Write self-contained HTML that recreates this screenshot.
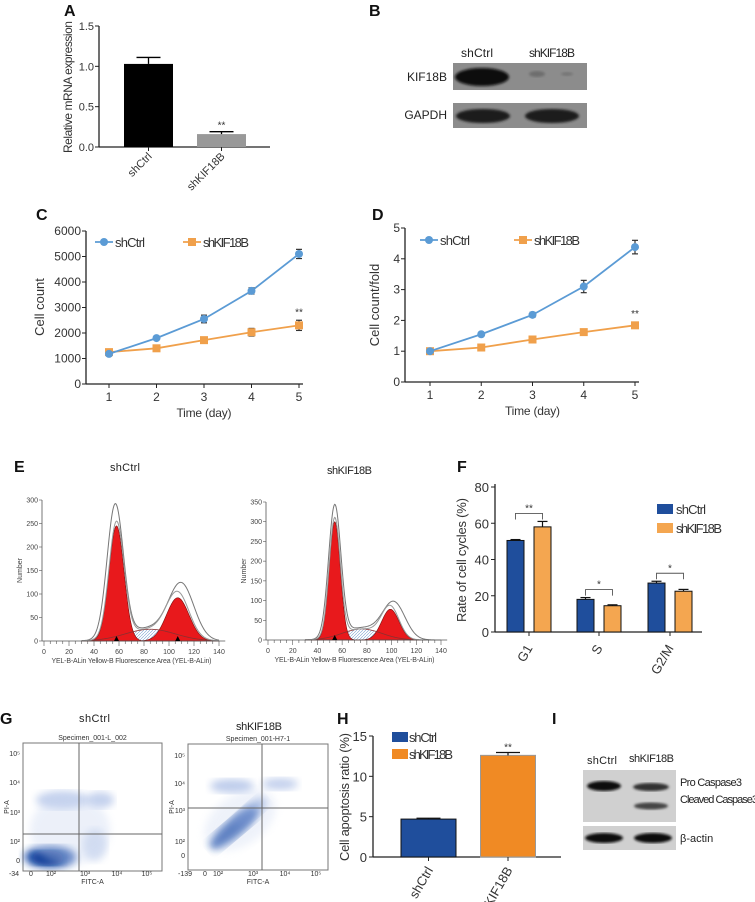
<!DOCTYPE html>
<html><head><meta charset="utf-8">
<style>
html,body{margin:0;padding:0;background:#fff;}
svg{display:block;font-family:"Liberation Sans",sans-serif;}
</style></head>
<body>
<svg id="fig" width="755" height="902" viewBox="0 0 755 902" xmlns="http://www.w3.org/2000/svg">
<defs>
<filter id="blur2"><feGaussianBlur stdDeviation="2"/></filter>
<filter id="blur3"><feGaussianBlur stdDeviation="4"/></filter>
<filter id="blur1"><feGaussianBlur stdDeviation="1.2"/></filter>
<pattern id="hatch" width="3" height="3" patternUnits="userSpaceOnUse"><path d="M0,3 L3,0" stroke="#7aa0d0" stroke-width="0.6"/></pattern>
</defs>

<g font-weight="bold" font-size="16" fill="#111">
<text x="64" y="16">A</text>
<text x="369" y="16">B</text>
<text x="36" y="220">C</text>
<text x="372" y="220">D</text>
<text x="14" y="472">E</text>
<text x="457" y="472">F</text>
<text x="0" y="724">G</text>
<text x="337" y="724">H</text>
<text x="552" y="724">I</text>
</g>

<g font-size="12" fill="#222">
<text x="461" y="57" textLength="32">shCtrl</text>
<text x="529" y="57" textLength="46">shKIF18B</text>
<text x="447" y="81" text-anchor="end">KIF18B</text>
<text x="447" y="119" text-anchor="end">GAPDH</text>
<rect x="453" y="63" width="134" height="27" fill="#8c8c8c"/>
<ellipse cx="482" cy="77" rx="27" ry="9" fill="#0a0a0a" filter="url(#blur1)"/>
<ellipse cx="537" cy="74" rx="8" ry="3" fill="#6d6d6d" filter="url(#blur1)"/>
<ellipse cx="567" cy="74" rx="6" ry="2" fill="#767676" filter="url(#blur1)"/>
<rect x="453" y="103" width="134" height="25" fill="#8c8c8c"/>
<ellipse cx="483" cy="116" rx="27" ry="7" fill="#1a1a1a" filter="url(#blur1)"/>
<ellipse cx="552" cy="116" rx="27" ry="7" fill="#1a1a1a" filter="url(#blur1)"/>
</g>

<g font-size="11" fill="#222">
<text x="587" y="764" textLength="30">shCtrl</text>
<text x="629" y="762" textLength="45">shKIF18B</text>
<rect x="583" y="770" width="93" height="52" fill="#d0d0d0"/>
<ellipse cx="604" cy="786" rx="17" ry="5" fill="#111" filter="url(#blur1)"/>
<ellipse cx="651" cy="787" rx="18" ry="4" fill="#333" filter="url(#blur1)"/>
<ellipse cx="651" cy="806" rx="17" ry="3.5" fill="#444" filter="url(#blur1)"/>
<rect x="583" y="826" width="93" height="24" fill="#d0d0d0"/>
<ellipse cx="604" cy="838" rx="19" ry="5" fill="#111" filter="url(#blur1)"/>
<ellipse cx="653" cy="838" rx="19" ry="5" fill="#111" filter="url(#blur1)"/>
<text x="680" y="786" textLength="62">Pro Caspase3</text>
<text x="680" y="803" textLength="78">Cleaved Caspase3</text>
<text x="680" y="842">β-actin</text>
</g>

<text x="110" y="471" font-size="11" fill="#222" textLength="30">shCtrl</text>
<text x="327" y="474" font-size="11" fill="#222" textLength="45">shKIF18B</text>
<text x="79" y="722" font-size="11" fill="#222" textLength="31">shCtrl</text>
<text x="236" y="730" font-size="11" fill="#222" textLength="46">shKIF18B</text>

<g id="charts"></g>
</svg>

<script>
// ===== Panel A data =====
const aCats = ["shCtrl","shKIF18B"];
const aVals = [1.03, 0.16];
const aErrs = [0.08, 0.03];
const aTicks = [0.0, 0.5, 1.0, 1.5];
// ===== Panel C data =====
const cDays = [1,2,3,4,5];
const cCtrl = [1180,1800,2550,3650,5100];
const cCtrlErr = [80,50,150,120,180];
const cKif = [1250,1400,1720,2030,2300];
const cKifErr = [60,60,80,150,200];
const cTicks = [0,1000,2000,3000,4000,5000,6000];
// ===== Panel D data =====
const dCtrl = [1.0,1.55,2.18,3.1,4.38];
const dCtrlErr = [0.05,0.04,0.08,0.2,0.22];
const dKif = [1.0,1.12,1.38,1.62,1.84];
const dKifErr = [0.04,0.05,0.05,0.06,0.1];
const dTicks = [0,1,2,3,4,5];
// ===== Panel F data =====
const fCats = ["G1","S","G2/M"];
const fCtrl = [50.5,18,27];
const fCtrlErr = [0.5,1,1];
const fKif = [58,14.5,22.5];
const fKifErr = [3,0.5,1];
const fSig = ["**","*","*"];
const fTicks = [0,20,40,60,80];
// ===== Panel H data =====
const hCats = ["shCtrl","shKIF18B"];
const hVals = [4.7,12.6];
const hErrs = [0.1,0.35];
const hTicks = [0,5,10,15];
// ===== Panel E histogram fits (mu, height, sigma) =====
const e1G1 = [58,245,6]; const e1G2 = [107,92,9]; const e1S = [85,25,20];
const e1Out1 = [57,282,6.5]; const e1Out2 = [110,112,10];
const e2G1 = [54,300,4.5]; const e2G2 = [99,78,7]; const e2S = [76,28,16];
const e2Out1 = [54,332,5]; const e2Out2 = [102,90,9];

const NS="http://www.w3.org/2000/svg";
const root=document.getElementById('charts');
function mk(tag,attrs,parent){const e=document.createElementNS(NS,tag);for(const k in attrs)e.setAttribute(k,attrs[k]);(parent||root).appendChild(e);return e;}
function txt(s,attrs,parent){const e=mk('text',attrs,parent);e.textContent=s;return e;}
function lin(d0,d1,r0,r1){return v=>r0+(v-d0)/(d1-d0)*(r1-r0);}

// ---------- Panel A ----------
(function(){
 const g=mk('g',{});
 const y=lin(0,1.5,147,26);
 mk('line',{x1:99,y1:26,x2:99,y2:147,stroke:'#222','stroke-width':1.3},g);
 mk('line',{x1:99,y1:147,x2:270,y2:147,stroke:'#222','stroke-width':1.3},g);
 aTicks.forEach(t=>{mk('line',{x1:95,y1:y(t),x2:99,y2:y(t),stroke:'#222'},g);
  const l=txt(t.toFixed(1),{x:94,y:y(t)+4,'font-size':11,'text-anchor':'end',fill:'#333'},g);
  
  });
 const xs=[148.5,221.5], fills=['#000','#999'];
 aCats.forEach((c,i)=>{
  const b=mk('rect',{x:xs[i]-24.5,y:y(aVals[i]),width:49,height:147-y(aVals[i]),fill:fills[i]},g);
  
  
  mk('line',{x1:xs[i],y1:y(aVals[i]),x2:xs[i],y2:y(aVals[i]+aErrs[i]),stroke:'#000','stroke-width':1.3},g);
  mk('line',{x1:xs[i]-12,y1:y(aVals[i]+aErrs[i]),x2:xs[i]+12,y2:y(aVals[i]+aErrs[i]),stroke:'#000','stroke-width':1.3},g);
  mk('line',{x1:xs[i],y1:147,x2:xs[i],y2:151,stroke:'#222'},g);
  const l=txt(c,{x:xs[i]+4,y:157,'font-size':11,'text-anchor':'end',fill:'#333',transform:`rotate(-45 ${xs[i]+4} 157)`},g);
  
  
 });
 txt('**',{x:221.5,y:y(aVals[1]+aErrs[1])-3,'font-size':10,'text-anchor':'middle',fill:'#333'},g);
 const t=txt('Relative mRNA expression',{x:72,y:87,'font-size':12,'text-anchor':'middle',fill:'#333',textLength:132,transform:'rotate(-90 72 87)'},g);
 
 
})();

// ---------- line charts C / D ----------
function lineChart(o){
 const g=mk('g',{});
 const x=lin(1,5,o.x1,o.x5), y=lin(0,o.max,o.y0,o.yTop);
 mk('line',{x1:o.ax,y1:o.yTop,x2:o.ax,y2:o.y0,stroke:'#222','stroke-width':1.3},g);
 mk('line',{x1:o.ax,y1:o.y0,x2:o.x5+4,y2:o.y0,stroke:'#222','stroke-width':1.3},g);
 o.ticks.forEach(t=>{mk('line',{x1:o.ax-4,y1:y(t),x2:o.ax,y2:y(t),stroke:'#222'},g);
  const l=txt(String(t),{x:o.ax-5,y:y(t)+4,'font-size':12,'text-anchor':'end',fill:'#333'},g);
  
  });
 cDays.forEach(d=>{mk('line',{x1:x(d),y1:o.y0,x2:x(d),y2:o.y0+4,stroke:'#222'},g);
  const l=txt(String(d),{x:x(d),y:o.y0+17,'font-size':12,'text-anchor':'middle',fill:'#333'},g);
  
  });
 const xt=txt('Time (day)',{x:(o.x1+o.x5)/2,y:o.y0+33,'font-size':12,'text-anchor':'middle',fill:'#333',textLength:55},g);
 
 
 const yt=txt(o.ytitle,{x:o.tx,y:o.ty,'font-size':13,'text-anchor':'middle',fill:'#333',transform:`rotate(-90 ${o.tx} ${o.ty})`},g);
 
 
 const series=[{v:o.kif,e:o.kifE,c:'#f0a04b',sq:true,n:'shkif18b'},{v:o.ctrl,e:o.ctrlE,c:'#5b9bd5',sq:false,n:'shctrl'}];
 series.forEach(s=>{
  const p=mk('polyline',{points:cDays.map((d,i)=>x(d)+','+y(s.v[i])).join(' '),fill:'none',stroke:s.c,'stroke-width':1.8},g);
  
  
  cDays.forEach((d,i)=>{
   const cx=x(d),cy=y(s.v[i]),t=y(s.v[i]+s.e[i]),b=y(s.v[i]-s.e[i]);
   mk('line',{x1:cx,y1:t,x2:cx,y2:b,stroke:'#333','stroke-width':1.2},g);
   mk('line',{x1:cx-3,y1:t,x2:cx+3,y2:t,stroke:'#333','stroke-width':1.2},g);
   mk('line',{x1:cx-3,y1:b,x2:cx+3,y2:b,stroke:'#333','stroke-width':1.2},g);
   const m=s.sq?mk('rect',{x:cx-4,y:cy-4,width:8,height:8,fill:s.c},g):mk('circle',{cx:cx,cy:cy,r:4,fill:s.c},g);
   
   
  });
 });
 txt('**',{x:x(5),y:y(o.kif[4]+o.kifE[4])-5,'font-size':10,'text-anchor':'middle',fill:'#333'},g);
 [[o.lg1,'#5b9bd5',false,'shCtrl',30],[o.lg2,'#f0a04b',true,'shKIF18B',46]].forEach(L=>{
  const lx=L[0];
  mk('line',{x1:lx-9,y1:o.ly,x2:lx+9,y2:o.ly,stroke:L[1],'stroke-width':1.8},g);
  if(L[2])mk('rect',{x:lx-4,y:o.ly-4,width:8,height:8,fill:L[1]},g);else mk('circle',{cx:lx,cy:o.ly,r:4,fill:L[1]},g);
  const l=txt(L[3],{x:lx+11,y:o.ly+5,'font-size':13,fill:'#333',textLength:L[4]},g);
  
  
 });
}
lineChart({id:'c',ax:86,y0:384,yTop:231,max:6000,x1:109,x5:299,ticks:cTicks,ctrl:cCtrl,ctrlE:cCtrlErr,kif:cKif,kifE:cKifErr,ytitle:'Cell count',tx:44,ty:307,lg1:104,lg2:192,ly:242});
lineChart({id:'d',ax:405,y0:382,yTop:228,max:5,x1:430,x5:635,ticks:dTicks,ctrl:dCtrl,ctrlE:dCtrlErr,kif:dKif,kifE:dKifErr,ytitle:'Cell count/fold',tx:379,ty:305,lg1:429,lg2:523,ly:240});

// ---------- Panel E histograms ----------
function gauss(p,v){return p[1]*Math.exp(-0.5*Math.pow((v-p[0])/p[2],2));}
function hist(o){
 const g=mk('g',{});
 const x=lin(0,140,o.x0,o.x140), y=lin(0,o.ymax,o.y0,o.yTop);
 const pts=[];for(let v=30;v<=140;v+=0.5)pts.push(v);
 const path=(f)=>'M'+pts.map(v=>x(v)+','+y(f(v))).join(' L');
 const area=(f)=>path(f)+` L${x(140)},${o.y0} L${x(30)},${o.y0} Z`;
 mk('path',{d:area(v=>gauss(o.s,v)),fill:'url(#hatch)',stroke:'none'},g);
 mk('path',{d:area(v=>gauss(o.g1,v)),fill:'#e8191c',stroke:'#7a1010','stroke-width':0.6},g);
 mk('path',{d:area(v=>gauss(o.g2,v)),fill:'#e8191c',stroke:'#7a1010','stroke-width':0.6},g);
 mk('path',{d:path(v=>gauss(o.s,v)),fill:'none',stroke:'#8a3030','stroke-width':0.8},g);
 mk('path',{d:path(v=>gauss(o.o1,v)+gauss(o.o2,v)+gauss(o.s,v)*1.1),fill:'none',stroke:'#777','stroke-width':1},g);
 mk('path',{d:path(v=>gauss(o.g1,v)+gauss(o.g2,v)+gauss(o.s,v)),fill:'none',stroke:'#999','stroke-width':1},g);
 mk('line',{x1:o.x0-2,y1:o.yTop,x2:o.x0-2,y2:o.y0,stroke:'#555','stroke-width':0.8},g);
 mk('line',{x1:o.x0-2,y1:o.y0,x2:x(145),y2:o.y0,stroke:'#555','stroke-width':0.8},g);
 for(let t=0;t<=o.ymax;t+=50){mk('line',{x1:o.x0-5,y1:y(t),x2:o.x0-2,y2:y(t),stroke:'#555','stroke-width':0.6},g);
  txt(String(t),{x:o.x0-6,y:y(t)+2.5,'font-size':7,'text-anchor':'end',fill:'#444'},g);}
 for(let t=0;t<=140;t+=5){mk('line',{x1:x(t),y1:o.y0,x2:x(t),y2:o.y0+(t%20?3:5),stroke:'#555','stroke-width':0.6},g);}
 for(let t=0;t<=140;t+=20)txt(String(t),{x:x(t),y:o.y0+13,'font-size':7,'text-anchor':'middle',fill:'#444'},g);
 mk('polygon',{points:`${x(o.g1[0])-2.5},${o.y0} ${x(o.g1[0])+2.5},${o.y0} ${x(o.g1[0])},${o.y0-5}`,fill:'#000'},g);
 if(o.tri2)mk('polygon',{points:`${x(o.g2[0])-2.5},${o.y0} ${x(o.g2[0])+2.5},${o.y0} ${x(o.g2[0])},${o.y0-5}`,fill:'#000'},g);
 const yt=txt('Number',{x:o.x0-22,y:(o.y0+o.yTop)/2,'font-size':7,'text-anchor':'middle',fill:'#444',transform:`rotate(-90 ${o.x0-22} ${(o.y0+o.yTop)/2})`},g);
 
 
 const xt=txt('YEL-B-ALin Yellow-B Fluorescence Area (YEL-B-ALin)',{x:(o.x0+o.x140)/2,y:o.y0+22,'font-size':7,'text-anchor':'middle',fill:'#444',textLength:160},g);
 
 
}
hist({x0:44,x140:219,y0:641,yTop:500,ymax:300,g1:e1G1,g2:e1G2,s:e1S,o1:e1Out1,o2:e1Out2,tri2:true});
hist({x0:268,x140:441,y0:640,yTop:502,ymax:350,g1:e2G1,g2:e2G2,s:e2S,o1:e2Out1,o2:e2Out2,tri2:false});

// ---------- Panel F ----------
(function(){
 const g=mk('g',{});
 const y=lin(0,80,632,487);
 mk('line',{x1:495,y1:484,x2:495,y2:632,stroke:'#222','stroke-width':1.3},g);
 mk('line',{x1:495,y1:632,x2:702,y2:632,stroke:'#222','stroke-width':1.3},g);
 fTicks.forEach(t=>{mk('line',{x1:491,y1:y(t),x2:495,y2:y(t),stroke:'#222'},g);
  const l=txt(String(t),{x:489,y:y(t)+5,'font-size':13,'text-anchor':'end',fill:'#333'},g);
  
  });
 const centers=[529,599,670];
 fCats.forEach((c,i)=>{
  [[fCtrl,fCtrlErr,'#1f4e9c',-13.5,'shctrl'],[fKif,fKifErr,'#f4a650',13.5,'shkif18b']].forEach(S=>{
   const cx=centers[i]+S[3],v=S[0][i],e=S[1][i];
   const b=mk('rect',{x:cx-8.5,y:y(v),width:17,height:632-y(v),fill:S[2],stroke:'#111','stroke-width':1},g);
   
   
   mk('line',{x1:cx,y1:y(v),x2:cx,y2:y(v+e),stroke:'#111','stroke-width':1.2},g);
   mk('line',{x1:cx-5,y1:y(v+e),x2:cx+5,y2:y(v+e),stroke:'#111','stroke-width':1.2},g);
  });
  const top=y(Math.max(fCtrl[i]+fCtrlErr[i],fKif[i]+fKifErr[i]))-8;
  mk('polyline',{points:`${centers[i]-13.5},${top+6} ${centers[i]-13.5},${top} ${centers[i]+13.5},${top} ${centers[i]+13.5},${top+6}`,fill:'none',stroke:'#555','stroke-width':0.9},g);
  txt(fSig[i],{x:centers[i],y:top-2,'font-size':10,'text-anchor':'middle',fill:'#333'},g);
  mk('line',{x1:centers[i],y1:632,x2:centers[i],y2:636,stroke:'#222'},g);
  const l=txt(c,{x:centers[i]+4,y:648,'font-size':13,'text-anchor':'end',fill:'#333',transform:`rotate(-60 ${centers[i]+4} 648)`},g);
  
  
 });
 const yt=txt('Rate of cell cycles (%)',{x:466,y:560,'font-size':13,'text-anchor':'middle',fill:'#333',textLength:124,transform:'rotate(-90 466 560)'},g);
 
 
 [[509,'#1f4e9c','shCtrl',30],[528,'#f4a650','shKIF18B',46]].forEach(L=>{
  mk('rect',{x:657,y:L[0]-5,width:16,height:10,fill:L[1]},g);
  const l=txt(L[2],{x:676,y:L[0]+5,'font-size':13,fill:'#333',textLength:L[3]},g);
  
  
 });
})();

// ---------- Panel G scatter plots (cluster centres/spreads) ----------
const gClusters1=[[50,857,26,11,'#1a4da8',0.9],[48,858,16,7,'#0e3a95',0.9],[62,800,26,9,'#8aa4dc',0.5],[100,800,14,8,'#8aa4dc',0.5],[95,845,12,16,'#9bb2e0',0.4],[70,830,40,35,'#c9d6f0',0.35]];
const gClusters2=[[234,828,30,9,'#1a4da8',0.9,-40],[250,812,20,8,'#5a7fc8',0.5,-40],[232,786,22,7,'#8aa4dc',0.55,0],[280,784,18,6,'#8aa4dc',0.5,0],[240,820,40,25,'#c9d6f0',0.3,-35]];
function scatter(o,cl){
 const g=mk('g',{});
 mk('rect',{x:o.x0,y:o.y0,width:o.x1-o.x0,height:o.y1-o.y0,fill:'#fff',stroke:'#777','stroke-width':1},g);
 cl.forEach(c=>{
  const e=mk('ellipse',{cx:c[0],cy:c[1],rx:c[2],ry:c[3],fill:c[4],opacity:c[5],filter:'url(#blur3)',transform:c[6]?`rotate(${c[6]} ${c[0]} ${c[1]})`:''},g);
  
  
 });
 mk('line',{x1:o.vx,y1:o.y0,x2:o.vx,y2:o.y1,stroke:'#666','stroke-width':1},g);
 mk('line',{x1:o.x0,y1:o.hy,x2:o.x1,y2:o.hy,stroke:'#666','stroke-width':1},g);
 txt(o.title,{x:(o.x0+o.x1)/2,y:o.y0-3,'font-size':7,'text-anchor':'middle',fill:'#333'},g);
 const xt=txt('FITC-A',{x:(o.x0+o.x1)/2,y:884,'font-size':7,'text-anchor':'middle',fill:'#333'},g);
 
 
 const yt=txt('PI-A',{x:o.x0-14,y:(o.y0+o.y1)/2,'font-size':7,'text-anchor':'middle',fill:'#333',transform:`rotate(-90 ${o.x0-14} ${(o.y0+o.y1)/2})`},g);
 
 
 o.xl.forEach(l=>txt(l[0],{x:l[1],y:876,'font-size':7,'text-anchor':'middle',fill:'#333'},g));
 o.yl.forEach(l=>txt(l[0],{x:o.x0-3,y:l[1],'font-size':7,'text-anchor':'end',fill:'#333'},g));
}
scatter({x0:23,x1:162,y0:743,y1:871,vx:79,hy:834,title:'Specimen_001-L_002',
 xl:[['-34',14],['0',31],['10²',51],['10³',85],['10⁴',117],['10⁵',147]],
 yl:[['10⁵',756],['10⁴',785],['10³',815],['10²',844],['0',863]]},gClusters1);
scatter({x0:188,x1:328,y0:744,y1:870,vx:262,hy:808,title:'Specimen_001-H7-1',
 xl:[['-139',185],['0',205],['10²',218],['10³',253],['10⁴',285],['10⁵',316]],
 yl:[['10⁵',758],['10⁴',786],['10³',813],['10²',844],['0',858]]},gClusters2);

// ---------- Panel H ----------
(function(){
 const g=mk('g',{});
 const y=lin(0,15,857,736);
 mk('line',{x1:373,y1:736,x2:373,y2:857,stroke:'#222','stroke-width':1.3},g);
 mk('line',{x1:373,y1:857,x2:561,y2:857,stroke:'#222','stroke-width':1.3},g);
 hTicks.forEach(t=>{mk('line',{x1:369,y1:y(t),x2:373,y2:y(t),stroke:'#222'},g);
  const l=txt(String(t),{x:367,y:y(t)+5,'font-size':13,'text-anchor':'end',fill:'#333'},g);
  
  });
 const xs=[428.5,508],fills=['#1f4e9c','#f08a24'];
 hCats.forEach((c,i)=>{
  const b=mk('rect',{x:xs[i]-27.5,y:y(hVals[i]),width:55,height:857-y(hVals[i]),fill:fills[i],stroke:i?'#999':'#111','stroke-width':1},g);
  
  
  mk('line',{x1:xs[i],y1:y(hVals[i]),x2:xs[i],y2:y(hVals[i]+hErrs[i]),stroke:'#111','stroke-width':1.2},g);
  mk('line',{x1:xs[i]-12,y1:y(hVals[i]+hErrs[i]),x2:xs[i]+12,y2:y(hVals[i]+hErrs[i]),stroke:'#111','stroke-width':1.2},g);
  mk('line',{x1:xs[i],y1:857,x2:xs[i],y2:861,stroke:'#222'},g);
  const l=txt(c,{x:xs[i]+5,y:870,'font-size':13,'text-anchor':'end',fill:'#333',transform:`rotate(-60 ${xs[i]+5} 870)`},g);
  
  
 });
 txt('**',{x:508,y:y(hVals[1]+hErrs[1])-2,'font-size':10,'text-anchor':'middle',fill:'#333'},g);
 const yt=txt('Cell apoptosis ratio (%)',{x:349,y:797,'font-size':13,'text-anchor':'middle',fill:'#333',textLength:128,transform:'rotate(-90 349 797)'},g);
 
 
 [[737,'#1f4e9c','shCtrl',28],[754,'#f08a24','shKIF18B',44]].forEach(L=>{
  mk('rect',{x:392,y:L[0]-5,width:16,height:10,fill:L[1]},g);
  const l=txt(L[2],{x:409,y:L[0]+5,'font-size':13,fill:'#333',textLength:L[3]},g);
  
  
 });
})();
</script>
</body></html>
